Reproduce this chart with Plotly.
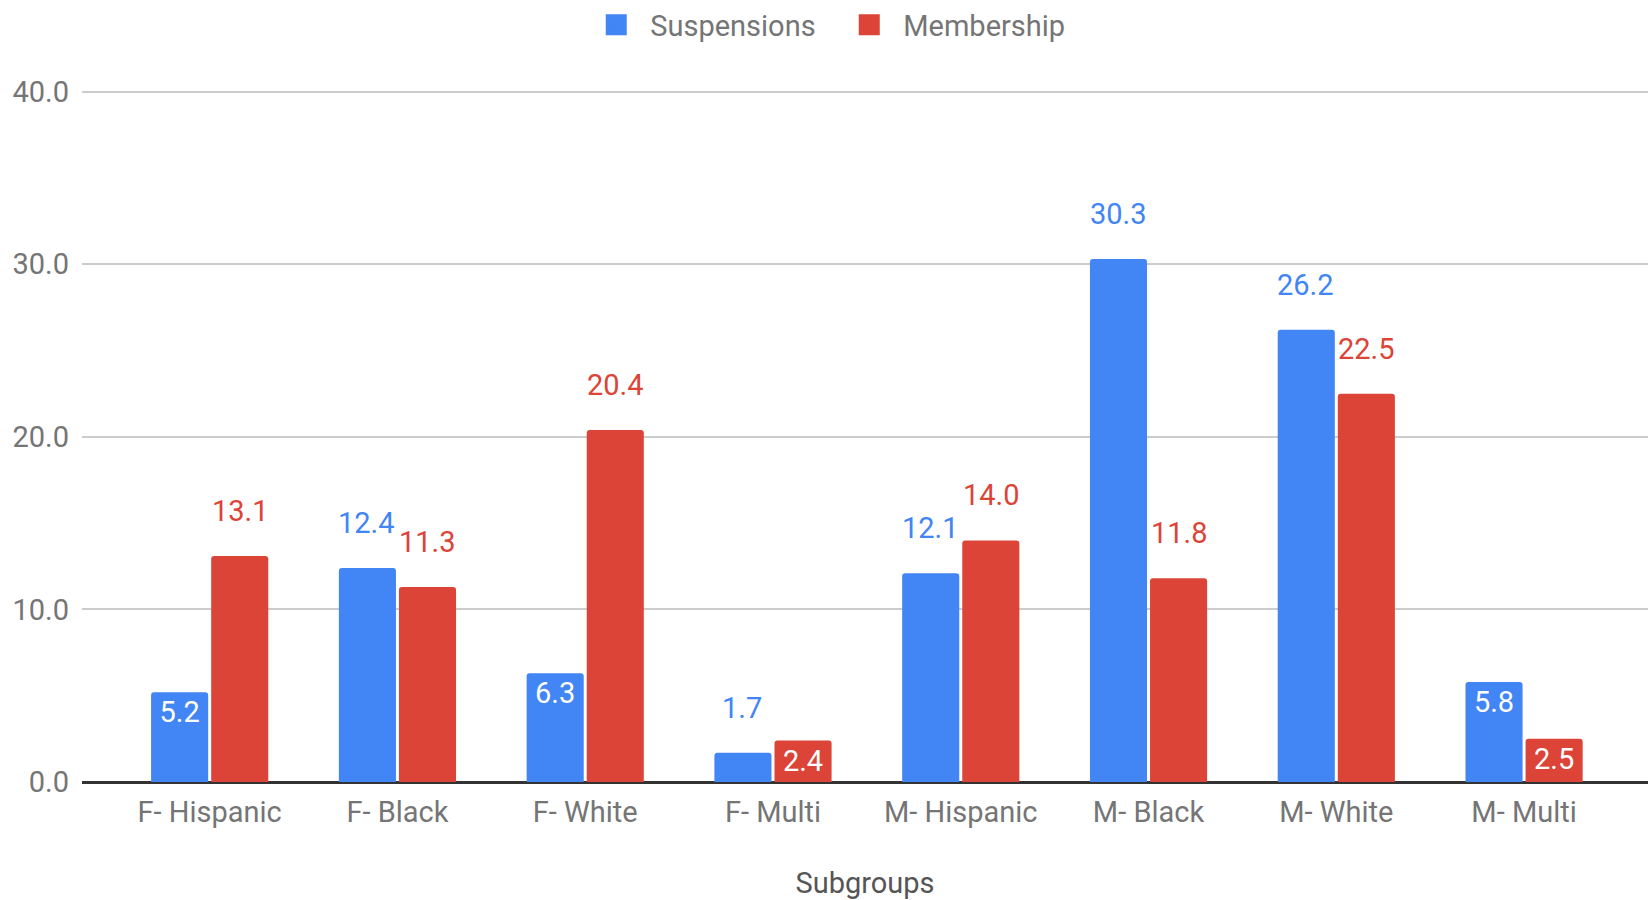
import plotly.graph_objects as go

# data
subgroups = ["F- Hispanic", "F- Black", "F- White", "F- Multi",
             "M- Hispanic", "M- Black", "M- White", "M- Multi"]
suspensions = [5.2, 12.4, 6.3, 1.7, 12.1, 30.3, 26.2, 5.8]
membership = [13.1, 11.3, 20.4, 2.4, 14.0, 11.8, 22.5, 2.5]

# where each value label sits (Google Charts style placement)
susp_inside = [True, False, True, False, False, False, False, True]
memb_inside = [False, False, False, True, False, False, False, True]

BLUE = "#4285F4"
RED = "#DB4437"
FONT = "Roboto"
FS = 29

fig = go.Figure()


def add_series(name, values, inside, color, shift):
    fig.add_trace(go.Bar(
        name=name,
        x=subgroups,
        y=values,
        marker=dict(color=color, cornerradius=3, line=dict(width=0)),
        text=[f"{v:.1f}" if ins else "" for v, ins in zip(values, inside)],
        textposition=["inside" if ins else "none" for ins in inside],
        insidetextanchor="end",
        insidetextfont=dict(family=FONT, size=FS, color="white"),
        constraintext="none",
        hoverinfo="skip",
        showlegend=False,
    ))
    # bigger square swatch for the legend
    fig.add_trace(go.Scatter(
        name=name,
        x=[subgroups[0]],
        y=[None],
        mode="markers",
        marker=dict(symbol="square", size=16, color=color,
                    line=dict(color=color, width=5)),
        hoverinfo="skip",
    ))
    # outside labels float well above the bar top
    for cat, v, ins in zip(subgroups, values, inside):
        if ins:
            continue
        fig.add_annotation(
            x=cat, y=v, text=f"{v:.1f}", showarrow=False,
            xshift=shift, yshift=45, yanchor="middle",
            font=dict(family=FONT, size=FS, color=color),
        )


add_series("Suspensions", suspensions, susp_inside, BLUE, -30.5)
add_series("Membership", membership, memb_inside, RED, 30.5)

fig.update_layout(
    width=1648,
    height=900,
    barmode="group",
    bargap=0.36,
    bargroupgap=0.05,
    plot_bgcolor="white",
    paper_bgcolor="white",
    font=dict(family=FONT, size=FS, color="#757575"),
    margin=dict(l=82, r=0, t=90, b=118, autoexpand=False),
    legend=dict(
        orientation="h", x=0.481, xanchor="center", y=1.094, yanchor="middle",
        font=dict(family=FONT, size=FS, color="#757575"),
        itemwidth=58,
        entrywidth=180,
    ),
    xaxis=dict(
        range=[-0.68, 7.66],
        showgrid=False,
        ticks="",
        ticklabelstandoff=10,
        tickfont=dict(family=FONT, size=FS, color="#757575"),
        title=dict(text="Subgroups", standoff=48,
                   font=dict(family=FONT, size=FS, color="#555555")),
    ),
    yaxis=dict(
        range=[0, 40.1],
        dtick=10,
        tickformat=".1f",
        showgrid=True,
        gridcolor="#cccccc",
        gridwidth=2,
        zeroline=True,
        zerolinecolor="#333333",
        zerolinewidth=3,
        ticks="",
        ticklabelstandoff=12,
        tickfont=dict(family=FONT, size=FS, color="#757575"),
    ),
)

fig.write_html("out.html", config={"displayModeBar": False},
               post_script="document.body.style.margin='0';")
